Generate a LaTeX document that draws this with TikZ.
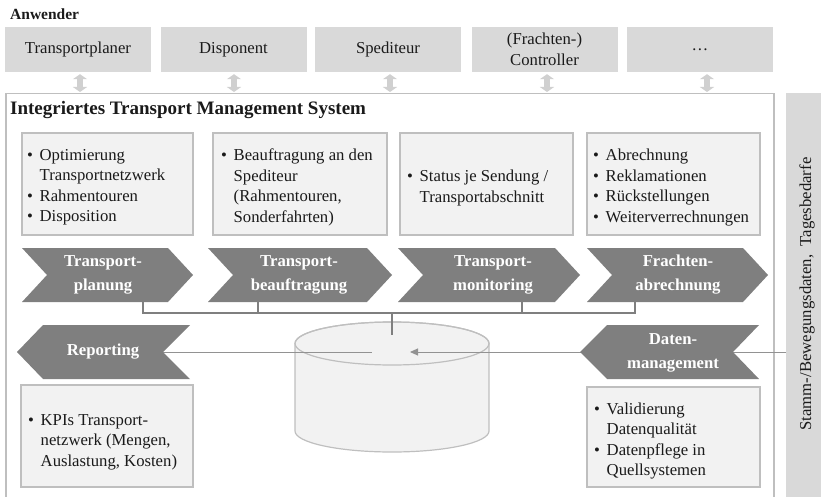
\documentclass[tikz,border=0pt]{standalone}
\usepackage{fontspec}
\setmainfont{Liberation Serif}
\usetikzlibrary{arrows.meta}
\definecolor{boxgray}{HTML}{D9D9D9}
\definecolor{arrgray}{HTML}{D0D0D0}
\definecolor{lightfill}{HTML}{F2F2F2}
\definecolor{framegray}{HTML}{BFBFBF}
\definecolor{chevgray}{HTML}{7F7F7F}
\definecolor{txtcol}{HTML}{1A1A1A}
\newcommand\fsnorm{\fontsize{16.7}{20.5}\selectfont}
\newcommand\fschev{\fontsize{16.7}{24}\selectfont\bfseries}
\newcommand\bul{\makebox[12.5pt][l]{\textbullet}}
\newcommand\ind{\hspace*{12.5pt}}
\begin{document}
\begin{tikzpicture}[x=1pt,y=-1pt,
  userbox/.style={fill=boxgray, draw=none, minimum width=146pt, minimum height=45pt, inner sep=0pt, align=center, font=\fsnorm, text=txtcol},
  infobox/.style={fill=lightfill, draw=framegray, line width=1.2pt, inner sep=0pt},
  boxtxt/.style={anchor=west, align=left, inner sep=0pt, font=\fsnorm, text=txtcol},
  chev/.style={fill=chevgray},
  chevtxt/.style={text=white, font=\fschev, align=center, inner sep=0pt},
  dblarr/.style={draw=arrgray, line width=6pt, {Triangle[width=14pt,length=5pt]}-{Triangle[width=14pt,length=5pt]}},
  conn/.style={draw=chevgray, line width=1.6pt},
  flow/.style={draw=chevgray!85, line width=1pt}
]
\useasboundingbox (0,0) rectangle (821,497);

% title "Anwender"
\node[anchor=west, inner sep=0pt, font=\fontsize{15.5}{18}\selectfont\bfseries, text=txtcol] (anw) at (10,14) {Anwender};

% user boxes
\node[userbox] (u1) at (78,49.5) {Transportplaner};
\node[userbox] (u2) at (233.5,49.5) {Disponent};
\node[userbox] (u3) at (388,49.5) {Spediteur};
\node[userbox] (u4) at (544.5,49.5) {(Frachten-)\\Controller};
\node[userbox] (u5) at (700,49.5) {…};

% frame of the system
\node[draw=framegray, line width=1.5pt, minimum width=768pt, minimum height=420pt, anchor=north west, inner sep=0pt] (frame) at (5,93) {};
\node[anchor=west, inner sep=0pt, font=\fontsize{19}{22}\selectfont\bfseries, text=txtcol] (title) at (10,110) {Integriertes Transport Management System};

% side bar
\node[fill=boxgray, anchor=north west, minimum width=40pt, minimum height=420pt, inner sep=0pt] (side) at (786,93) {};
\node[rotate=90, inner sep=0pt, font=\fsnorm, text=txtcol] (sidetxt) at (807,294) {Stamm-/Bewegungsdaten,\ \ Tagesbedarfe};

% double arrows users <-> system
\draw[dblarr] ([xshift=2pt,yshift=-2pt]u1.south) -- ([xshift=2pt,yshift=1pt]u1.south |- frame.north);
\draw[dblarr] ([xshift=0.5pt,yshift=-2pt]u2.south) -- ([xshift=0.5pt,yshift=1pt]u2.south |- frame.north);
\draw[dblarr] ([xshift=2pt,yshift=-2pt]u3.south) -- ([xshift=2pt,yshift=1pt]u3.south |- frame.north);
\draw[dblarr] ([xshift=2.5pt,yshift=-2pt]u4.south) -- ([xshift=2.5pt,yshift=1pt]u4.south |- frame.north);
\draw[dblarr] ([xshift=7pt,yshift=-2pt]u5.south) -- ([xshift=7pt,yshift=1pt]u5.south |- frame.north);

% info boxes (top row)
\node[infobox, minimum width=171pt, minimum height=102pt] (bA) at (107.5,184) {};
\node[infobox, minimum width=174pt, minimum height=102pt] (bB) at (300,184) {};
\node[infobox, minimum width=173pt, minimum height=102pt] (bC) at (486.5,184) {};
\node[infobox, minimum width=173pt, minimum height=102pt] (bD) at (673.5,184) {};
\node[boxtxt] (tA) at (27,187) {\bul Optimierung\\\ind Transportnetzwerk\\\bul Rahmentouren\\\bul Disposition};
\node[boxtxt] (tB) at (221,187.5) {\bul Beauftragung an den\\\ind Spediteur\\\ind (Rahmentouren,\\\ind Sonderfahrten)};
\node[boxtxt] (tC) at (407,188) {\bul Status je Sendung /\\\ind Transportabschnitt};
\node[boxtxt] (tD) at (593,187.5) {\bul Abrechnung\\\bul Reklamationen\\\bul Rückstellungen\\\bul Weiterverrechnungen};

% connector coordinates
\coordinate (ch1b) at (143,302);
\coordinate (ch2b) at (258,302);
\coordinate (ch3b) at (522,302);
\coordinate (ch4b) at (635,302);
\coordinate (bus) at (0,313);
\coordinate (dbtop) at (392,335);
\coordinate (dbL) at (372,352);
\coordinate (dbR) at (410,352);
\coordinate (repN) at (163,352);

% cylinder (y axis points down: angle 90 is downward)
\path[fill=lightfill, draw=framegray, line width=1.2pt]
  (295,343.5) -- (295,431) arc[start angle=180, end angle=0, x radius=97, y radius=21] -- (489,343.5) arc[start angle=0, end angle=-180, x radius=97, y radius=21.5] -- cycle;
\draw[framegray, line width=1.2pt] (392,343.5) ellipse[x radius=97, y radius=21.5];

% connectors from the process chevrons to the database
\draw[conn] (ch1b) |- (ch4b |- bus) -- (ch4b);
\draw[conn] (ch2b) -- (ch2b |- bus);
\draw[conn] (ch3b) -- (ch3b |- bus);
\draw[conn] (dbtop |- bus) -- (dbtop);

% data flows
\draw[flow] (repN) -- (dbL);
\draw[flow, -{Triangle[length=8pt,width=7pt]}] (side.west |- dbR) -- (dbR);

% process chevrons
\fill[chev] (22,248) -- (168,248) -- (193,275) -- (168,302) -- (22,302) -- (47,275) -- cycle;
\fill[chev] (208,248) -- (367,248) -- (392,275) -- (367,302) -- (208,302) -- (233,275) -- cycle;
\fill[chev] (398,248) -- (555,248) -- (580,275) -- (555,302) -- (398,302) -- (423,275) -- cycle;
\fill[chev] (587,248) -- (743,248) -- (768,275) -- (743,302) -- (587,302) -- (612,275) -- cycle;
\node[chevtxt] (c1) at (103,274.5) {Transport-\\planung};
\node[chevtxt] (c2) at (299,274.5) {Transport-\\beauftragung};
\node[chevtxt] (c3) at (493,274.5) {Transport-\\monitoring};
\node[chevtxt] (c4) at (678,274.5) {Frachten-\\abrechnung};

% left-pointing chevrons
\fill[chev] (17,352) -- (43,325) -- (190,325) -- (163,352) -- (190,379) -- (43,379) -- cycle;
\fill[chev] (580,352) -- (607,325) -- (759,325) -- (733,352) -- (759,379) -- (607,379) -- cycle;
\node[chevtxt] (rep) at (103,352) {Reporting};
\node[chevtxt] (dm) at (673,353) {Daten-\\management};

% bottom info boxes
\node[infobox, minimum width=172pt, minimum height=102pt] (bK) at (107,436) {};
\node[infobox, minimum width=173pt, minimum height=100pt] (bV) at (673.5,437) {};
\node[boxtxt] (tK) at (28,442) {\bul KPIs Transport-\\\ind netzwerk (Mengen,\\\ind Auslastung, Kosten)};
\node[boxtxt] (tV) at (594,441) {\bul Validierung\\\ind Datenqualität\\\bul Datenpflege in\\\ind Quellsystemen};
\end{tikzpicture}
\end{document}
